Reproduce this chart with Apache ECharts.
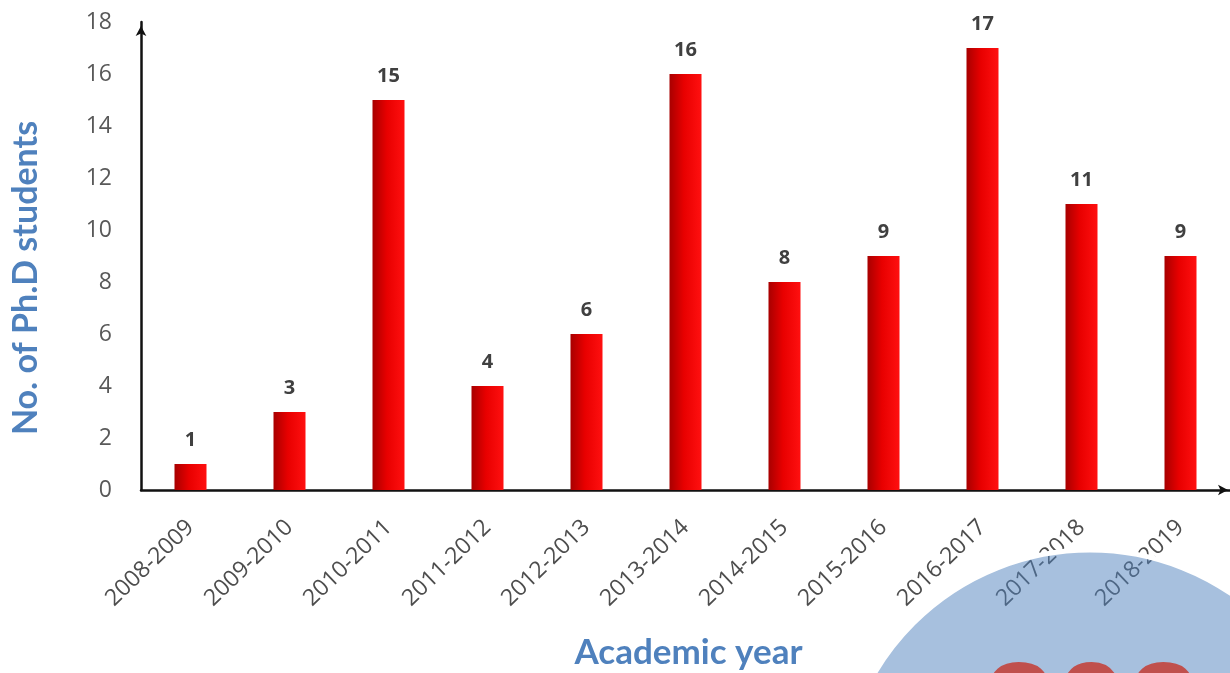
<!DOCTYPE html>
<html>
<head>
<meta charset="utf-8">
<script src="https://cdn.jsdelivr.net/npm/echarts@6/dist/echarts.min.js"></script>
<style>
html,body{margin:0;padding:0;background:#fff;}
#chart{width:1230px;height:673px;}
</style>
</head>
<body>
<div id="chart"></div>
<script>
var categories = ['2008-2009','2009-2010','2010-2011','2011-2012','2012-2013','2013-2014','2014-2015','2015-2016','2016-2017','2017-2018','2018-2019'];
var students = [1, 3, 15, 4, 6, 16, 8, 9, 17, 11, 9];
var yTicks = {min: 0, max: 18, interval: 2};
var xTitle = 'Academic year';
var yTitle = 'No. of Ph.D students';
var watermarkText = '2024';

var chart = echarts.init(document.getElementById('chart'));
chart.setOption({
  backgroundColor: '#ffffff',
  animation: false,
  grid: {left: 141, right: 0, top: 22, bottom: 183, containLabel: false, outerBoundsMode: 'none'},
  xAxis: {
    type: 'category',
    data: categories,
    axisLine: {show: true, lineStyle: {color: '#111', width: 2.5}, symbol: ['none', 'arrow'], symbolSize: [8, 10], symbolOffset: [0, -2]},
    axisTick: {show: false},
    axisLabel: {rotate: 44, color: '#4d4d4d', fontSize: 23, fontFamily: 'Open Sans', margin: 34, interval: 0},
    name: xTitle,
    nameLocation: 'middle',
    nameGap: 145,
    nameTextStyle: {color: '#4f81bd', fontSize: 35, fontWeight: 'bold', fontFamily: 'Lato', padding: [0, 0, 0, 6]}
  },
  yAxis: {
    type: 'value',
    min: yTicks.min,
    max: yTicks.max,
    interval: yTicks.interval,
    splitLine: {show: false},
    axisLine: {show: true, lineStyle: {color: '#111', width: 2.5}, symbol: ['none', 'arrow'], symbolSize: [8, 10], symbolOffset: [0, -4]},
    axisTick: {show: false},
    axisLabel: {color: '#595959', fontSize: 23, fontFamily: 'Open Sans', margin: 29},
    name: yTitle,
    nameLocation: 'middle',
    nameGap: 98,
    nameTextStyle: {color: '#4f81bd', fontSize: 34, fontWeight: 'bold', fontFamily: 'Lato', padding: [0, 44, 0, 0]},
    nameRotate: 90
  },
  series: [{
    type: 'bar',
    data: students,
    barWidth: 32,
    itemStyle: {
      color: new echarts.graphic.LinearGradient(0, 0, 1, 0, [
        {offset: 0, color: '#a80000'},
        {offset: 0.45, color: '#e80000'},
        {offset: 1, color: '#ff1010'}
      ])
    },
    label: {show: true, position: 'top', distance: 14, color: '#404040', fontSize: 20, fontWeight: 'bold', fontFamily: 'Open Sans'}
  }],
  graphic: [
    {
      type: 'circle',
      shape: {cx: 1090, cy: 800, r: 250},
      style: {fill: 'rgba(79,129,189,0.5)', stroke: '#ffffff', lineWidth: 5},
      z: 100
    },
    {
      type: 'text',
      x: 983,
      y: 717,
      style: {text: watermarkText, fill: '#c0504d', font: 'bold 130px Arial', textVerticalAlign: 'middle', verticalAlign: 'middle'},
      z: 101
    }
  ]
});
</script>
</body>
</html>
